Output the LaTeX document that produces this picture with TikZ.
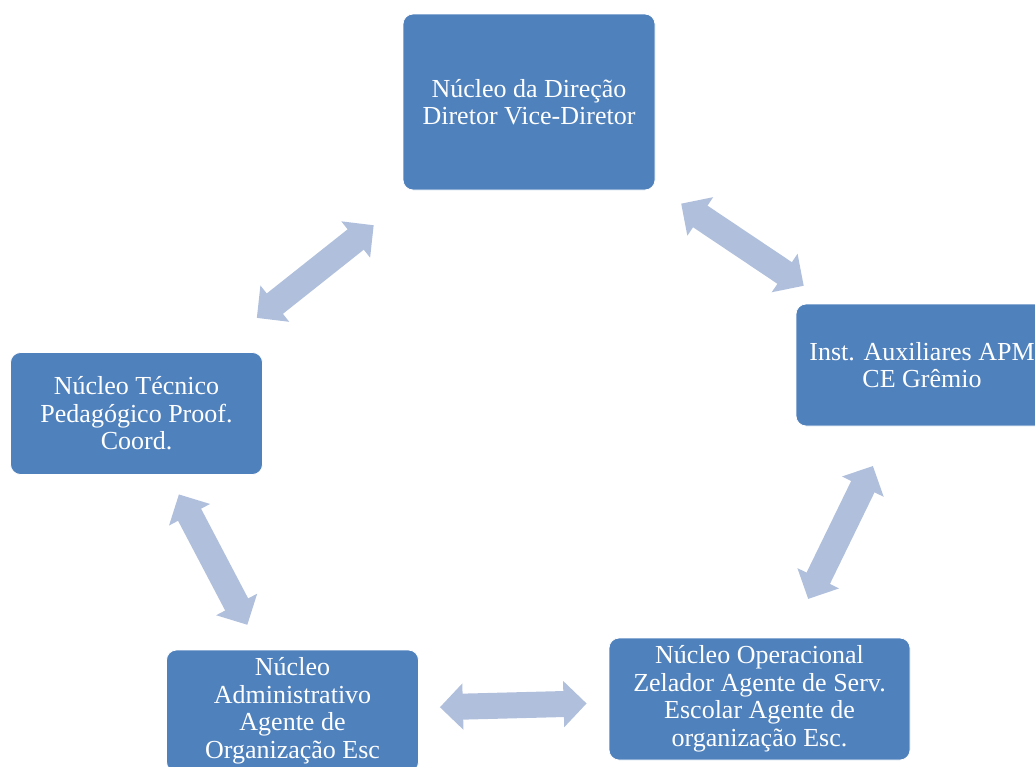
\documentclass[tikz,border=0pt]{standalone}
\usepackage{fontspec}
\setmainfont{Liberation Serif}
\usepackage{tikz}
\usetikzlibrary{arrows.meta}
\usetikzlibrary{positioning}

\definecolor{caixa}{RGB}{79,129,189}
\definecolor{seta}{RGB}{176,192,220}

\tikzset{
  nucleo/.style={rectangle, rounded corners=10pt, fill=caixa, draw=white,
    line width=0.8pt, text=white, align=center, inner sep=0pt,
    minimum width=252pt, minimum height=122pt,
    font=\fontsize{26}{27.5}\selectfont},
  ciclo/.style={draw=seta, line width=26pt,
    {Triangle[length=23pt,width=45pt]}-{Triangle[length=23pt,width=45pt]}}
}

\begin{document}
\begin{tikzpicture}[x=1pt,y=-1pt]
    \clip (0,0) rectangle (1035,766);

    % the five boxes of the cycle
    \node[nucleo, minimum height=176pt] (dir) at (529,102) {Núcleo da Direção\\Diretor Vice-Diretor};
    \node[nucleo] (aux) at (922,365) {Inst. Auxiliares APM\\CE Grêmio};
    \node[nucleo, minimum width=301pt] (oper) at (759.5,699) {Núcleo Operacional\\Zelador Agente de Serv.\\Escolar Agente de\\organização Esc.};
    \node[nucleo] (adm) at (292.5,711) {Núcleo\\Administrativo\\Agente de\\Organização Esc};
    \node[nucleo] (tec) at (136.5,413.5) {Núcleo Técnico\\Pedagógico Proof.\\Coord.};

    % the double arrows between them
    \draw[ciclo, shorten <=56pt, shorten >=55pt] (dir) -- (tec);
    \draw[ciclo, shorten <=31pt, shorten >=32pt] (dir) -- (aux);
    \draw[ciclo, shorten <=44pt, shorten >=43pt] (aux) -- (oper);
    \draw[ciclo, shorten <=22pt, shorten >=21pt] (oper) -- (adm);
    \draw[ciclo, shorten <=28pt, shorten >=22pt] (adm) -- (tec);
\end{tikzpicture}
\end{document}
